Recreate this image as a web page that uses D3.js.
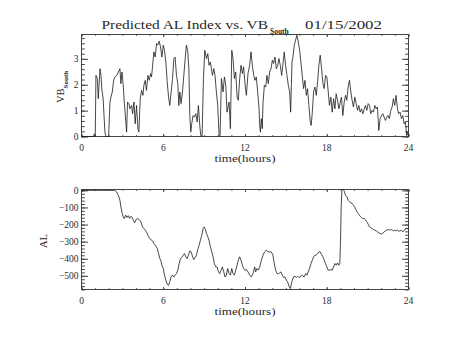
<!DOCTYPE html>
<html>
<head>
<meta charset="utf-8">
<script src="https://cdn.jsdelivr.net/npm/d3@7"></script>
<style>
  body { margin: 0; background: #fff; }
  svg { display: block; }
  text { font-family: "Liberation Serif", "DejaVu Serif", serif; fill: #2a2a2a; }
</style>
</head>
<body>
<svg id="chart" width="454" height="341"></svg>
<script>
// ---- data ---------------------------------------------------------------
const hourTicks = [0, 6, 12, 18, 24];
const hourMinor = d3.range(0, 25, 1);

const vbTicks = [0, 1, 2, 3];
const vbMinor = d3.range(0, 3.95, 0.2);
const alTicks = [0, -100, -200, -300, -400, -500];
const alMinor = d3.range(0, -581, -20);

// southward IMF component (hours, value)
const vbTime = [0, 0.87, 0.94, 1.01, 1.06, 1.16, 1.23, 1.36, 1.43, 1.50, 1.58, 1.72, 1.79, 1.99, 2.09, 2.16, 2.26, 2.36, 2.45, 2.58,
  2.70, 2.82, 2.89, 2.97, 3.06, 3.14, 3.31, 3.38, 3.48, 3.55, 3.68, 3.75, 3.85, 3.94, 4.04, 4.14, 4.21, 4.31, 4.41, 4.51,
  4.58, 4.68, 4.77, 4.87, 4.97, 5.07, 5.14, 5.21, 5.31, 5.41, 5.51, 5.60, 5.70, 5.80, 5.90, 6.00, 6.09, 6.19, 6.29, 6.39,
  6.48, 6.58, 6.68, 6.78, 6.87, 6.97, 7.07, 7.14, 7.22, 7.31, 7.41, 7.51, 7.61, 7.70, 7.80, 7.88, 7.95, 8.02, 8.09, 8.19,
  8.29, 8.39, 8.49, 8.58, 8.68, 8.75, 8.85, 8.95, 9.05, 9.17, 9.27, 9.36, 9.46, 9.61, 9.71, 9.80, 9.90, 10.00, 10.10, 10.17,
  10.27, 10.39, 10.49, 10.59, 10.68, 10.83, 10.93, 11.03, 11.12, 11.22, 11.32, 11.42, 11.51, 11.61, 11.71, 11.81, 11.90, 12.00, 12.10, 12.22,
  12.34, 12.44, 12.54, 12.64, 12.73, 12.83, 12.93, 13.03, 13.08, 13.13, 13.20, 13.27, 13.32, 13.42, 13.52, 13.61, 13.71, 13.81, 13.91, 14.01,
  14.10, 14.20, 14.30, 14.40, 14.49, 14.59, 14.69, 14.79, 14.88, 14.98, 15.08, 15.18, 15.28, 15.35, 15.45, 15.52, 15.62, 15.71, 15.81, 15.91,
  16.01, 16.10, 16.20, 16.30, 16.40, 16.50, 16.59, 16.69, 16.79, 16.86, 16.94, 17.03, 17.13, 17.23, 17.33, 17.42, 17.52, 17.62, 17.72, 17.81,
  17.91, 18.01, 18.11, 18.20, 18.30, 18.40, 18.50, 18.60, 18.69, 18.79, 18.89, 18.99, 19.08, 19.18, 19.28, 19.38, 19.47, 19.57, 19.67, 19.77,
  19.86, 19.96, 20.06, 20.16, 20.26, 20.35, 20.45, 20.55, 20.65, 20.75, 20.84, 20.94, 21.04, 21.14, 21.23, 21.33, 21.43, 21.53, 21.63, 21.72,
  21.82, 21.92, 22.02, 22.11, 22.21, 22.31, 22.41, 22.50, 22.60, 22.70, 22.80, 22.89, 22.99, 23.09, 23.19, 23.28, 23.38, 23.48, 23.58, 23.68,
  23.77, 23.87, 23.92, 24.00];
const vbValue = [0, 0, 0.10, 0, 2.36, 2.24, 1.46, 2.62, 2.36, 1.78, 1.52, 0.17, 0, 0, 1.33, 1.52, 1.72, 2.17, 2.30, 2.36,
  2.49, 2.62, 2.04, 2.49, 2.00, 1.33, 0.17, 1.33, 1.27, 1.07, 1.20, 0.88, 1.33, 0.49, 1.20, 0.30, 0.17, 1.46, 1.78, 1.59,
  1.98, 2.17, 1.78, 2.36, 2.17, 2.43, 2.30, 2.69, 3.27, 3.07, 3.59, 3.53, 3.68, 3.46, 3.07, 3.53, 3.33, 2.88, 2.11, 1.52,
  1.20, 1.72, 2.24, 3.01, 3.07, 2.36, 2.04, 1.20, 1.72, 1.27, 1.72, 2.36, 3.01, 3.53, 3.27, 2.62, 0.81, 0.17, 0.49, 0.81,
  0.75, 0.88, 0.56, 1.20, 0.43, 0.04, 0.02, 2.24, 3.33, 3.01, 3.20, 2.75, 2.88, 2.36, 2.62, 2.36, 1.72, 1.20, 0, 0.04,
  2.24, 1.72, 2.30, 1.98, 0.94, 1.33, 0.30, 3.33, 3.01, 2.24, 2.49, 1.52, 1.40, 2.24, 2.75, 2.43, 2.69, 2.04, 1.59, 2.43,
  2.75, 3.27, 2.75, 2.36, 2.17, 2.30, 1.72, 1.07, 0.43, 0.17, 0.69, 0.30, 1.27, 1.98, 1.91, 2.36, 2.04, 2.49, 2.62, 2.95,
  2.82, 3.07, 2.62, 2.75, 3.01, 2.75, 2.36, 2.82, 3.27, 2.75, 2.36, 1.98, 1.72, 0.94, 2.88, 3.07, 3.53, 3.72, 3.91, 3.66,
  3.33, 2.88, 2.36, 1.85, 2.17, 1.59, 1.85, 1.20, 0.56, 0.43, 0.94, 1.72, 1.91, 1.59, 2.11, 2.75, 3.14, 2.62, 2.04, 1.85,
  2.36, 2.30, 1.72, 1.20, 1.52, 0.94, 1.46, 1.07, 1.65, 1.40, 1.07, 1.33, 1.52, 0.81, 1.33, 1.59, 1.40, 1.91, 2.17, 1.72,
  1.40, 1.14, 1.52, 1.27, 1.01, 1.20, 0.94, 1.07, 0.88, 1.07, 1.20, 1.01, 1.27, 1.20, 0.88, 1.01, 0.94, 1.20, 1.07, 1.14,
  0.23, 0.69, 0.81, 0.88, 0.75, 0.62, 0.75, 0.81, 0.69, 1.01, 1.14, 1.46, 1.20, 1.59, 1.07, 0.88, 0.94, 0.69, 0.81, 0.49,
  0.56, 0.04, 0.17, 0];

// predicted AL index (hours, nT)
const alTime = [0, 2.45, 2.58, 2.70, 2.82, 2.89, 2.99, 3.06, 3.14, 3.24, 3.33, 3.43, 3.53, 3.63, 3.73, 3.80, 3.90, 4.00, 4.12, 4.24,
  4.36, 4.48, 4.58, 4.68, 4.77, 4.87, 4.97, 5.07, 5.21, 5.31, 5.41, 5.56, 5.66, 5.75, 5.82, 5.90, 6.00, 6.09, 6.19, 6.29,
  6.39, 6.48, 6.58, 6.68, 6.78, 6.87, 6.97, 7.07, 7.17, 7.26, 7.36, 7.46, 7.56, 7.66, 7.75, 7.85, 7.95, 8.05, 8.14, 8.24,
  8.34, 8.44, 8.53, 8.63, 8.73, 8.83, 8.93, 9.00, 9.07, 9.17, 9.27, 9.36, 9.46, 9.56, 9.66, 9.75, 9.85, 9.95, 10.05, 10.15,
  10.24, 10.34, 10.44, 10.54, 10.63, 10.73, 10.83, 10.93, 11.03, 11.12, 11.22, 11.32, 11.42, 11.51, 11.61, 11.71, 11.81, 11.90, 12.00, 12.10,
  12.22, 12.35, 12.47, 12.59, 12.71, 12.78, 12.88, 12.98, 13.08, 13.20, 13.32, 13.44, 13.57, 13.69, 13.81, 13.93, 14.05, 14.15, 14.25, 14.35,
  14.45, 14.54, 14.64, 14.74, 14.84, 14.93, 15.03, 15.13, 15.23, 15.33, 15.40, 15.47, 15.57, 15.67, 15.76, 15.86, 15.96, 16.06, 16.15, 16.25,
  16.35, 16.45, 16.54, 16.64, 16.74, 16.84, 16.94, 17.04, 17.13, 17.23, 17.33, 17.42, 17.52, 17.62, 17.72, 17.82, 17.91, 18.01, 18.11, 18.21,
  18.31, 18.40, 18.50, 18.60, 18.70, 18.79, 18.89, 18.96, 19.01, 19.06, 19.11, 19.16, 19.23, 19.30, 19.38, 19.48, 19.57, 19.67, 19.77, 19.87,
  19.96, 20.06, 20.16, 20.26, 20.35, 20.45, 20.55, 20.65, 20.75, 20.84, 20.94, 21.04, 21.14, 21.23, 21.33, 21.43, 21.53, 21.63, 21.72, 21.82,
  21.92, 22.02, 22.11, 22.21, 22.31, 22.41, 22.50, 22.60, 22.70, 22.80, 22.89, 22.99, 23.09, 23.19, 23.28, 23.38, 23.48, 23.58, 23.68, 23.77,
  23.87, 24.00];
const alValue = [0, 0, -9, -28, -58, -97, -136, -155, -165, -145, -159, -148, -165, -151, -159, -175, -190, -171, -165, -171,
  -184, -214, -223, -233, -243, -262, -276, -288, -295, -311, -321, -340, -370, -399, -409, -438, -457, -496, -525, -549,
  -555, -535, -503, -496, -507, -496, -487, -467, -428, -399, -393, -379, -370, -389, -399, -379, -354, -360, -385, -405,
  -393, -379, -347, -321, -292, -262, -223, -214, -223, -252, -272, -292, -330, -360, -389, -428, -448, -448, -477, -487,
  -467, -448, -477, -507, -496, -457, -487, -496, -457, -487, -496, -467, -438, -409, -389, -409, -438, -457, -467, -463,
  -477, -496, -507, -487, -448, -477, -457, -467, -448, -409, -379, -360, -350, -360, -360, -360, -379, -428, -467, -487,
  -487, -483, -477, -496, -510, -506, -525, -535, -561, -575, -549, -525, -506, -502, -510, -502, -510, -506, -496, -502,
  -506, -487, -496, -477, -457, -428, -409, -389, -379, -379, -370, -360, -360, -374, -389, -409, -428, -448, -467, -467,
  -463, -467, -448, -428, -438, -424, -438, -428, -292, -97, 0, 5, 5, -9, -29, -38, -58, -67, -73, -77,
  -87, -100, -116, -130, -140, -151, -159, -165, -165, -171, -184, -198, -214, -218, -223, -229, -233, -237, -243, -249,
  -252, -256, -252, -243, -237, -233, -229, -233, -229, -233, -237, -233, -237, -233, -239, -237, -233, -243, -233, -229,
  -223, -225];

// ---- layout -------------------------------------------------------------
const svg = d3.select("#chart");
const left = 81.5, right = 408.5;
const x = d3.scaleLinear().domain([0, 24]).range([left, right]);

const panels = [
  { top: 34.5, bottom: 136.5, domain: [0, 3.94], major: vbTicks, minor: vbMinor,
    time: vbTime, value: vbValue, fmt: d => d3.format("d")(d) },
  { top: 189.5, bottom: 289.5, domain: [-580, 5], major: alTicks, minor: alMinor,
    time: alTime, value: alValue, fmt: d => d === 0 ? "0" : "\u2212" + Math.abs(d) }
];

const ink = "#444";

panels.forEach(p => {
  const y = d3.scaleLinear().domain(p.domain).range([p.bottom, p.top]);
  const g = svg.append("g");
  const h = p.bottom - p.top;

  // frame
  g.append("rect").attr("x", left).attr("y", p.top)
    .attr("width", right - left).attr("height", h)
    .attr("fill", "none").attr("stroke", ink).attr("stroke-width", 1);

  // y ticks, mirrored on both sides
  [[p.major, 6.5], [p.minor, 3.3]].forEach(([vals, len]) => {
    g.append("g").attr("transform", `translate(${left},0)`)
      .call(d3.axisLeft(y).tickValues(vals).tickSize(-len).tickFormat(""))
      .call(a => a.select(".domain").remove())
      .selectAll("line").attr("stroke", ink);
    g.append("g").attr("transform", `translate(${right},0)`)
      .call(d3.axisRight(y).tickValues(vals).tickSize(-len).tickFormat(""))
      .call(a => a.select(".domain").remove())
      .selectAll("line").attr("stroke", ink);
  });

  // x ticks, mirrored top and bottom
  [[hourTicks, 2.5], [hourMinor, 1.3]].forEach(([vals, len]) => {
    g.append("g").attr("transform", `translate(0,${p.bottom})`)
      .call(d3.axisBottom(x).tickValues(vals).tickSize(-len).tickFormat(""))
      .call(a => a.select(".domain").remove())
      .selectAll("line").attr("stroke", ink);
    g.append("g").attr("transform", `translate(0,${p.top})`)
      .call(d3.axisTop(x).tickValues(vals).tickSize(-len).tickFormat(""))
      .call(a => a.select(".domain").remove())
      .selectAll("line").attr("stroke", ink);
  });

  // tick labels
  g.selectAll(null).data(p.major).join("text")
    .attr("x", 78.5).attr("y", d => y(d) + 3.3)
    .attr("text-anchor", "end").attr("font-size", 9.5)
    .text(p.fmt);
  g.selectAll(null).data(hourTicks).join("text")
    .attr("x", d => x(d)).attr("y", p.bottom + 14)
    .attr("text-anchor", "middle").attr("font-size", 9.5)
    .text(d => d);
  g.append("text")
    .attr("x", x(12)).attr("y", p.bottom + 25.5)
    .attr("text-anchor", "middle").attr("font-size", 10.5)
    .attr("textLength", 61).attr("lengthAdjust", "spacingAndGlyphs")
    .text("time(hours)");

  // series
  const pts = p.time.map((t, i) => [t, p.value[i]]);
  g.append("path").datum(pts)
    .attr("fill", "none").attr("stroke", "#1a1a1a").attr("stroke-width", 0.8)
    .attr("stroke-linejoin", "round")
    .attr("d", d3.line().x(d => x(d[0])).y(d => y(d[1])));
});

// title
svg.append("text").attr("x", 101.5).attr("y", 28.5).attr("font-size", 13)
  .attr("fill", "#3a3a3a")
  .attr("textLength", 166.5).attr("lengthAdjust", "spacingAndGlyphs")
  .text("Predicted AL Index vs. VB");
svg.append("text").attr("x", 270).attr("y", 34).attr("font-size", 7.5)
  .attr("font-weight", "bold")
  .text("South");
svg.append("text").attr("x", 305).attr("y", 28.5).attr("font-size", 13)
  .attr("fill", "#3a3a3a")
  .attr("textLength", 77).attr("lengthAdjust", "spacingAndGlyphs")
  .text("01/15/2002");

// y axis titles
const vbLabel = svg.append("text")
  .attr("transform", "translate(63.5,103) rotate(-90)")
  .attr("font-size", 10.5);
vbLabel.append("tspan").text("VB");
vbLabel.append("tspan").attr("font-size", 7).attr("font-weight", "bold")
  .attr("dy", 4).text("South");

svg.append("text")
  .attr("transform", "translate(47,241) rotate(-90)")
  .attr("text-anchor", "middle").attr("font-size", 10.5)
  .text("AL");
</script>
</body>
</html>
